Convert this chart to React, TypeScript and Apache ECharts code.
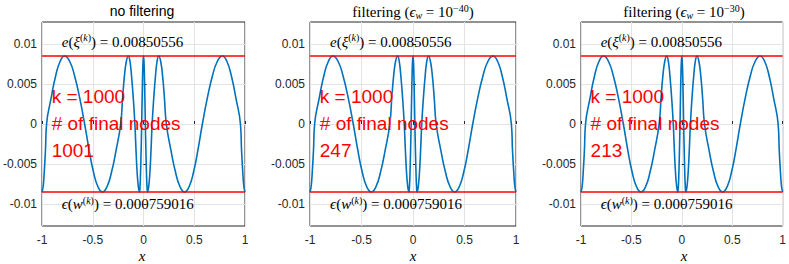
import React, { useEffect, useRef } from "react";
import * as echarts from "echarts";

// ---- data ----
const X_TICKS = [-1, -0.5, 0, 0.5, 1];
const Y_TICKS = [-0.01, -0.005, 0, 0.005, 0.01];
const ERR_MAX = 0.00850556; // e(xi^(k))
const ERR_W = "0.000759016"; // eps(w^(k))
const PANEL_TITLES = ["no filtering", "filtering", "filtering"];
const TITLE_EXPONENTS = [null, "\u221240", "\u221230"];
const K_VALUE = 1000;
const FINAL_NODES = [1001, 247, 213];

// error curve (x, value)
const CURVE_X = [
  -1, -0.989, -0.978, -0.966, -0.955, -0.91, -0.866, -0.821, -0.777,
  -0.728, -0.679, -0.629, -0.58, -0.536, -0.493, -0.449, -0.405,
  -0.36, -0.315, -0.27, -0.225, -0.206, -0.188, -0.169, -0.15,
  -0.134, -0.118, -0.101, -0.085, -0.074, -0.063, -0.051, -0.04,
  -0.0345, -0.029, -0.0235, -0.018, -0.0135, -0.009, -0.0045, 0,
  0.0045, 0.009, 0.0135, 0.018, 0.0235, 0.029, 0.0345, 0.04,
  0.051, 0.063, 0.074, 0.085, 0.101, 0.118, 0.134, 0.15,
  0.169, 0.188, 0.206, 0.225, 0.27, 0.315, 0.36, 0.405,
  0.449, 0.493, 0.536, 0.58, 0.629, 0.679, 0.728, 0.777,
  0.821, 0.866, 0.91, 0.955, 0.966, 0.978, 0.989, 1,
];
const CURVE_Y = [
  -0.0085, -0.00785, -0.00601, -0.00326, 0, 0.00326, 0.00601, 0.00785, 0.0085,
  0.00785, 0.00601, 0.00326, 0, -0.00326, -0.00601, -0.00785, -0.0085,
  -0.00785, -0.00601, -0.00326, 0, 0.00326, 0.00601, 0.00785, 0.0085,
  0.00785, 0.00601, 0.00326, 0, -0.00326, -0.00601, -0.00785, -0.0085,
  -0.00785, -0.00601, -0.00326, 0, 0.00326, 0.00601, 0.00785, 0.0085,
  0.00785, 0.00601, 0.00326, 0, -0.00326, -0.00601, -0.00785, -0.0085,
  -0.00785, -0.00601, -0.00326, 0, 0.00326, 0.00601, 0.00785, 0.0085,
  0.00785, 0.00601, 0.00326, 0, -0.00326, -0.00601, -0.00785, -0.0085,
  -0.00785, -0.00601, -0.00326, 0, 0.00326, 0.00601, 0.00785, 0.0085,
  0.00785, 0.00601, 0.00326, 0, -0.00326, -0.00601, -0.00785, -0.0085,
];
const Y_LIMIT = 1.5 * ERR_MAX;

// ---- layout ----
const PANEL_LEFT = [39, 310, 581];
const PANEL_TOP = 22;
const PANEL_W = 206;
const PANEL_H = 204;

const SERIF = "'Liberation Serif', 'DejaVu Serif', serif";
const SANS = "'Liberation Sans', Arial, sans-serif";
const AXIS_COLOR = "#262626";

export default function App() {
  const ref = useRef<HTMLDivElement>(null);
  useEffect(() => {
    if (!ref.current) return;
    const chart = echarts.init(ref.current, null, { renderer: "svg" });
    const curve = CURVE_X.map((x, i) => [x, CURVE_Y[i]]);

    const grids: any[] = [];
    const xAxes: any[] = [];
    const yAxes: any[] = [];
    const series: any[] = [];
    const graphics: any[] = [];

    const mathRich = {
      i: { fontFamily: SERIF, fontStyle: "italic", fontSize: 15, color: "#000", opacity: 1 },
      n: { fontFamily: SERIF, fontSize: 15, color: "#000", opacity: 1 },
      sup: { fontFamily: SERIF, fontSize: 10, color: "#000", padding: [0, 0, 8, 0] },
      supi: { fontFamily: SERIF, fontStyle: "italic", fontSize: 10, color: "#000", padding: [0, 0, 8, 0] },
    };

    const annot = (p: number, pt: number[], label: any) => ({
      type: "scatter",
      xAxisIndex: p,
      yAxisIndex: p,
      symbolSize: 1,
      silent: true,
      z: 4,
      itemStyle: { opacity: 0 },
      data: [pt],
      label: {
        show: true,
        position: [0, 0],
        align: "left",
        verticalAlign: "middle",
        opacity: 1,
        ...label,
      },
    });

    PANEL_LEFT.forEach((left, p) => {
      grids.push({
        left,
        top: PANEL_TOP,
        width: PANEL_W,
        height: PANEL_H,
        show: true,
        borderColor: AXIS_COLOR,
        borderWidth: 1,
        backgroundColor: "#fff",
      });
      xAxes.push({
        type: "value",
        gridIndex: p,
        min: -1,
        max: 1,
        interval: 0.5,
        axisLine: { show: false },
        axisTick: { show: true, inside: true, length: 3, lineStyle: { color: AXIS_COLOR } },
        splitLine: { show: true, lineStyle: { color: "#e3e3e3", width: 1 } },
        axisLabel: {
          color: AXIS_COLOR,
          fontFamily: SANS,
          fontSize: 12,
          margin: 8,
          formatter: (v: number) => String(v),
        },
      });
      yAxes.push({
        type: "value",
        gridIndex: p,
        min: -Y_LIMIT,
        max: Y_LIMIT,
        axisLine: { show: false },
        axisTick: {
          show: true,
          inside: true,
          length: 3,
          lineStyle: { color: AXIS_COLOR },
          customValues: Y_TICKS,
        },
        splitLine: { show: true, lineStyle: { color: "#e3e3e3", width: 1 } },
        axisLabel: {
          color: AXIS_COLOR,
          fontFamily: SANS,
          fontSize: 12,
          margin: 5,
          customValues: Y_TICKS,
          formatter: (v: number) => String(v),
        },
      });
      series.push({
        type: "line",
        xAxisIndex: p,
        yAxisIndex: p,
        data: curve,
        smooth: 0.5,
        showSymbol: false,
        symbol: "none",
        lineStyle: { color: "#0072BD", width: 1.6 },
        z: 2,
      });
      [ERR_MAX, -ERR_MAX].forEach((lv) => {
        series.push({
          type: "line",
          xAxisIndex: p,
          yAxisIndex: p,
          data: [[-1, lv], [1, lv]],
          showSymbol: false,
          symbol: "none",
          lineStyle: { color: "#ff0000", width: 1.4 },
          z: 3,
        });
      });
      // annotations
      series.push(
        annot(p, [-0.8, 1.2 * ERR_MAX], {
          formatter: "{i|e}{n|(}{i|\u03be}{sup|(}{supi|k}{sup|)}{n|) = " + ERR_MAX.toFixed(8) + "}",
          rich: mathRich,
        })
      );
      series.push(
        annot(p, [-0.8, -1.19 * ERR_MAX], {
          formatter: "{i|\u03f5}{n|(}{i|w}{sup|(}{supi|k}{sup|)}{n|) = " + ERR_W + "}",
          rich: mathRich,
        })
      );
      series.push(
        annot(p, [-0.9, 0], {
          color: "#ff0000",
          fontFamily: SANS,
          fontSize: 19,
          lineHeight: 27,
          formatter: "k = " + K_VALUE + "\n# of final nodes\n" + FINAL_NODES[p],
        })
      );

      // titles
      const cx = left + PANEL_W / 2;
      if (p === 0) {
        graphics.push({
          type: "text",
          x: cx,
          y: 11,
          style: {
            text: PANEL_TITLES[0],
            font: "14px " + SANS,
            fill: "#000",
            align: "center",
            verticalAlign: "middle",
          },
        });
      } else {
        graphics.push({
          type: "text",
          x: cx,
          y: 12,
          style: {
            text:
              "{n|" + PANEL_TITLES[p] + " (}{i|\u03f5}{sub|w}{n| = 10}{sup|" + TITLE_EXPONENTS[p] + "}{n|)}",
            align: "center",
            verticalAlign: "middle",
            rich: {
              n: { fontFamily: SERIF, fontSize: 15, fill: "#000" },
              i: { fontFamily: SERIF, fontStyle: "italic", fontSize: 15, fill: "#000" },
              sub: { fontFamily: SERIF, fontStyle: "italic", fontSize: 10, fill: "#000", padding: [6, 0, 0, 0] },
              sup: { fontFamily: SERIF, fontSize: 10, fill: "#000", padding: [0, 0, 8, 0] },
            },
          },
        });
      }
      graphics.push({
        type: "text",
        x: cx,
        y: 256,
        style: {
          text: "x",
          font: "italic 15px " + SERIF,
          fill: "#000",
          align: "center",
          verticalAlign: "middle",
        },
      });
    });

    chart.setOption({
      animation: false,
      backgroundColor: "#fff",
      grid: grids,
      xAxis: xAxes,
      yAxis: yAxes,
      series,
      graphic: graphics,
    });
    return () => chart.dispose();
  }, []);

  return (
    <div
      ref={ref}
      style={{ position: "absolute", left: 0, top: 0, width: 789, height: 264, background: "#fff" }}
    />
  );
}
